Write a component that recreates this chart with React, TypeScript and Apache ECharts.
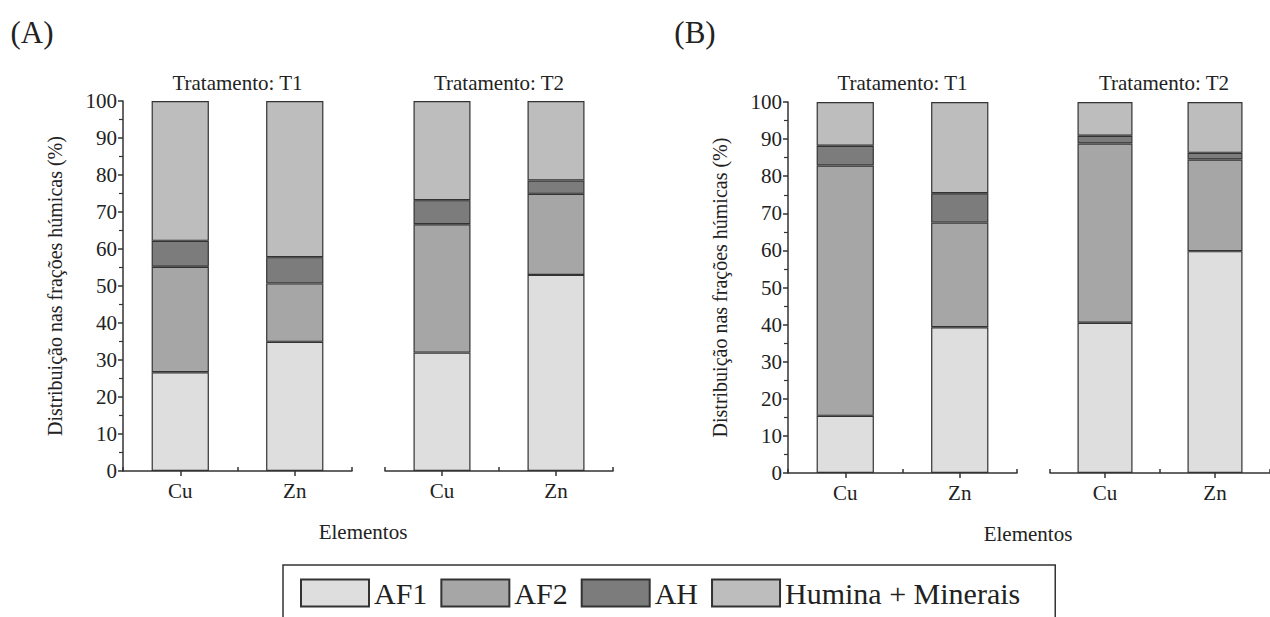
import React, { useEffect, useRef } from "react";
import * as echarts from "echarts";

const categories = ["Cu", "Zn"];
const seriesNames = ["AF1", "AF2", "AH", "Humina + Minerais"];
const colors = ["#dedede", "#a6a6a6", "#7c7c7c", "#bdbdbd"];

// Panel A
const aT1AF1 = [26.7, 34.9];
const aT1AF2 = [28.5, 15.8];
const aT1AH = [7.0, 7.1];
const aT1HM = [37.8, 42.2];
const aT2AF1 = [32.0, 53.0];
const aT2AF2 = [34.7, 21.9];
const aT2AH = [6.5, 3.6];
const aT2HM = [26.8, 21.5];
// Panel B
const bT1AF1 = [15.4, 39.3];
const bT1AF2 = [67.5, 28.2];
const bT1AH = [5.3, 7.9];
const bT1HM = [11.8, 24.6];
const bT2AF1 = [40.5, 59.8];
const bT2AF2 = [48.3, 24.7];
const bT2AH = [2.1, 1.8];
const bT2HM = [9.1, 13.7];

const panels = [
  [aT1AF1, aT1AF2, aT1AH, aT1HM],
  [aT2AF1, aT2AF2, aT2AH, aT2HM],
  [bT1AF1, bT1AF2, bT1AH, bT1HM],
  [bT2AF1, bT2AF2, bT2AH, bT2HM],
];

const yTicks = { min: 0, max: 100, interval: 10 };
const subTitles = ["Tratamento: T1", "Tratamento: T2", "Tratamento: T1", "Tratamento: T2"];
const yName = "Distribuição nas frações húmicas (%)";
const xName = "Elementos";

const FONT = "Liberation Serif";
const TXT = "#222";

export default function App() {
  const ref = useRef<HTMLDivElement>(null);
  useEffect(() => {
    if (!ref.current) return;
    const chart = echarts.init(ref.current, undefined, { renderer: "svg" });
    const grids = [
      { left: 123, top: 101, width: 229, height: 370 },
      { left: 385, top: 101, width: 228, height: 370 },
      { left: 788, top: 102, width: 229, height: 371 },
      { left: 1050, top: 102, width: 228, height: 371 },
    ];
    const xAxis: any[] = [];
    const yAxis: any[] = [];
    grids.forEach((g, i) => {
      xAxis.push({
        type: "category",
        gridIndex: i,
        data: categories,
        position: "bottom",
        axisLine: { show: true, lineStyle: { color: "#333", width: 1.5 } },
        axisTick: { show: true, alignWithLabel: true, inside: false, length: 5, lineStyle: { color: "#333", width: 1.5 } },
        axisLabel: { fontSize: 21, fontFamily: FONT, color: TXT, margin: 9 },
      });
    });
    grids.forEach((g, i) => {
      xAxis.push({
        type: "category",
        gridIndex: i,
        data: categories,
        position: "bottom",
        axisLine: { show: false },
        axisTick: { show: true, alignWithLabel: false, inside: true, length: 4, lineStyle: { color: "#333", width: 1.5 } },
        axisLabel: { show: false },
      });
    });
    grids.forEach((g, i) => {
      const showY = i === 0 || i === 2;
      yAxis.push({
        type: "value",
        gridIndex: i,
        min: yTicks.min,
        max: yTicks.max,
        interval: yTicks.interval,
        show: showY,
        name: showY ? yName : "",
        nameLocation: "middle",
        nameGap: 58,
        nameTextStyle: { fontSize: 20, fontFamily: FONT, color: TXT },
        axisLine: { show: true, lineStyle: { color: "#333", width: 1.5 } },
        axisTick: { show: true, length: 5, lineStyle: { color: "#333", width: 1.5 } },
        minorTick: { show: true, splitNumber: 2, length: 4, lineStyle: { color: "#333", width: 1.2 } },
        splitLine: { show: false },
        axisLabel: { fontSize: 21, fontFamily: FONT, color: TXT, margin: 6 },
      });
    });
    const series: any[] = [];
    panels.forEach((p, gi) => {
      p.forEach((vals, si) => {
        series.push({
          type: "bar",
          name: seriesNames[si],
          xAxisIndex: gi,
          yAxisIndex: gi,
          stack: "p" + gi,
          barWidth: "50%",
          data: vals,
          itemStyle: { color: colors[si], borderColor: "#333", borderWidth: 1.2 },
        });
      });
    });
    const text = (t: string, x: number, y: number, size: number) => ({
      type: "text",
      x,
      y,
      style: {
        text: t,
        fontSize: size,
        fontFamily: FONT,
        fill: TXT,
        align: "center",
        verticalAlign: "middle",
        textAlign: "center",
        textVerticalAlign: "middle",
      },
    });
    const graphic: any[] = [
      text("(A)", 32, 32, 31),
      text("(B)", 695, 32, 31),
      text(xName, 363, 532, 21),
      text(xName, 1028, 534, 21),
    ];
    grids.forEach((g, i) => {
      graphic.push(text(subTitles[i], g.left + g.width / 2, 83, 21));
    });
    chart.setOption({
      animation: false,
      backgroundColor: "#fff",
      textStyle: { fontFamily: FONT },
      grid: grids,
      xAxis,
      yAxis,
      series,
      graphic,
      legend: {
        data: seriesNames,
        left: 283,
        top: 565,
        orient: "horizontal",
        icon: "rect",
        itemWidth: 68,
        itemHeight: 27,
        itemGap: 13,
        padding: [13, 35, 20, 17],
        borderColor: "#333",
        borderWidth: 1.5,
        textStyle: { fontSize: 30, fontFamily: FONT, color: TXT },
      },
    });
    return () => chart.dispose();
  }, []);
  return (
    <div
      ref={ref}
      style={{ position: "absolute", left: 0, top: 0, width: 1270, height: 617, background: "#fff" }}
    />
  );
}
